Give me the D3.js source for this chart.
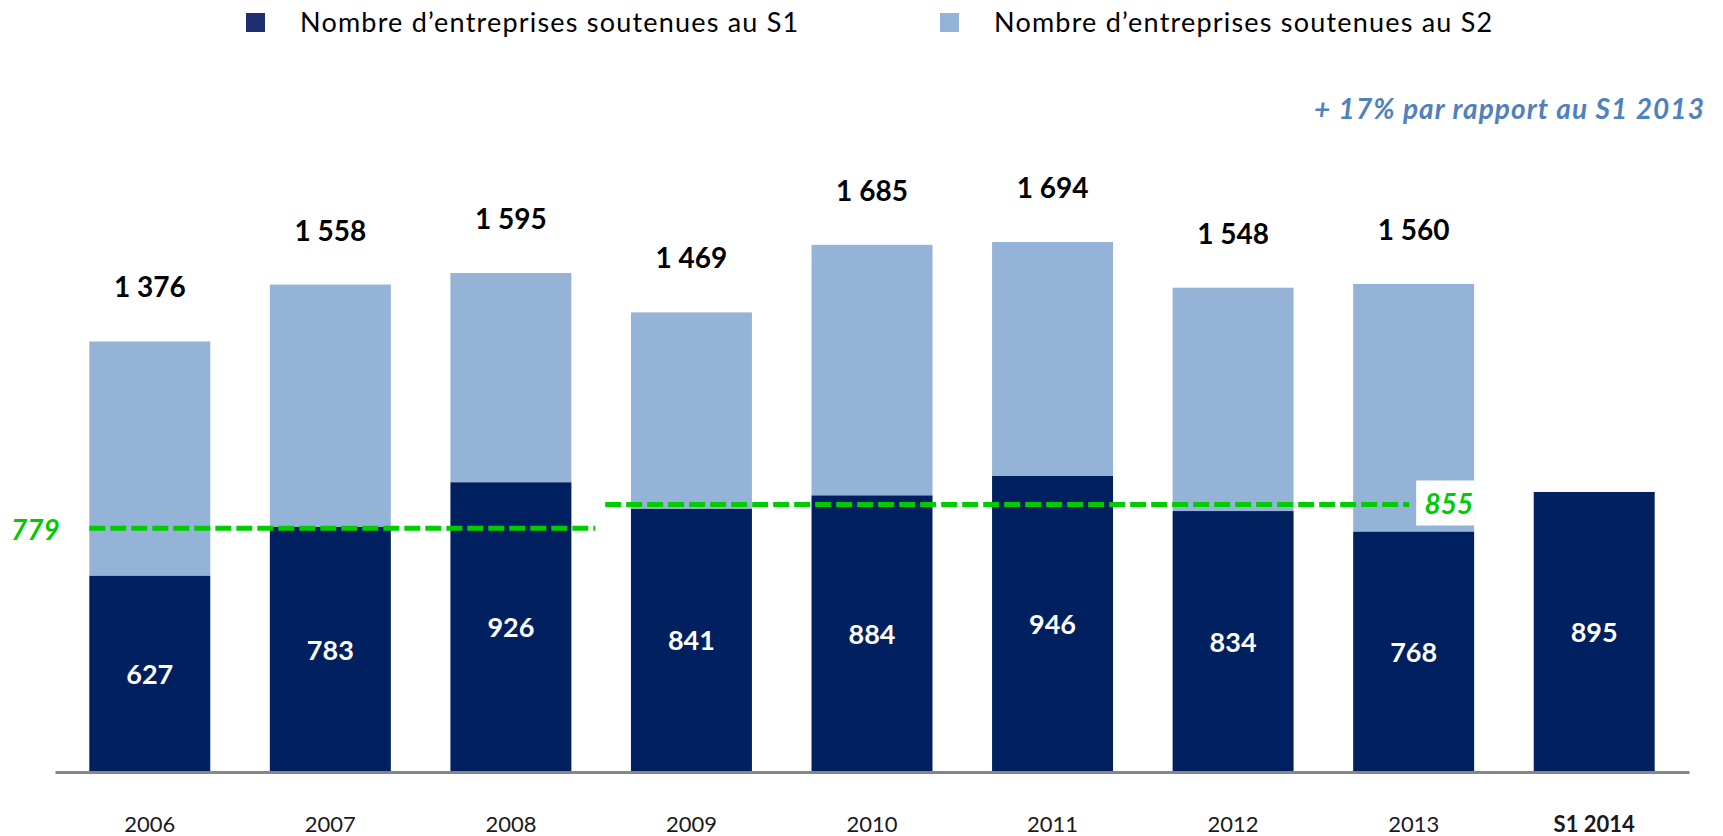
<!DOCTYPE html>
<html>
<head>
<meta charset="utf-8">
<script src="https://cdn.jsdelivr.net/npm/d3@7"></script>
<style>
  body { margin: 0; background: #fff; }
  svg text { font-family: Lato, "Open Sans", sans-serif; }
</style>
</head>
<body>
<script>
// data
var categories = ['2006', '2007', '2008', '2009', '2010', '2011', '2012', '2013', 'S1 2014'];
var s1Values   = [627, 783, 926, 841, 884, 946, 834, 768, 895];
var s2Values   = [749, 775, 669, 628, 801, 748, 714, 792, null];
var legendLabels = ['Nombre d\u2019entreprises soutenues au S1', 'Nombre d\u2019entreprises soutenues au S2'];
var averages = [
  {value: 779, from: '2006', to: '2008'},
  {value: 855, from: '2009', to: '2013'}
];
var noteText = '+ 17% par rapport au S1 2013';

var W = 1723, H = 836;
var colS1 = '#002060', colS2 = '#95B3D7', colGreen = '#00CC00';

var svg = d3.select('body').append('svg')
    .attr('width', W)
    .attr('height', H);

// scales
var x = d3.scaleBand()
    .domain(categories)
    .range([55, 1689])
    .paddingInner(0.33)
    .paddingOuter(0.19);

var y = d3.scaleLinear()
    .domain([0, 1694])
    .range([772, 242]);

// fr thousands: 1 376
function fmt(v) {
  return String(v).replace(/\B(?=(\d{3})+(?!\d))/g, ' ');
}

var rows = categories.map(function(c, i) {
  return {cat: c, s1: s1Values[i], s2: s2Values[i], total: s1Values[i] + (s2Values[i] || 0)};
});

// S2 segments (stacked above S1)
svg.selectAll('rect.s2')
  .data(rows.filter(function(d) { return d.s2 != null; }))
  .enter().append('rect')
    .attr('class', 's2')
    .attr('x', function(d) { return x(d.cat); })
    .attr('width', x.bandwidth())
    .attr('y', function(d) { return y(d.total); })
    .attr('height', function(d) { return y(d.s1) - y(d.total); })
    .attr('fill', colS2);

// S1 segments
svg.selectAll('rect.s1')
  .data(rows)
  .enter().append('rect')
    .attr('class', 's1')
    .attr('x', function(d) { return x(d.cat); })
    .attr('width', x.bandwidth())
    .attr('y', function(d) { return y(d.s1); })
    .attr('height', function(d) { return y(0) - y(d.s1); })
    .attr('fill', colS1);

// S1 labels inside bars
svg.selectAll('text.s1lab')
  .data(rows)
  .enter().append('text')
    .attr('class', 's1lab')
    .attr('x', function(d) { return x(d.cat) + x.bandwidth() / 2; })
    .attr('y', function(d) { return (y(d.s1) + y(0)) / 2 + 10; })
    .attr('text-anchor', 'middle')
    .attr('font-size', 27)
    .attr('font-weight', 'bold')
    .attr('fill', '#fff')
    .text(function(d) { return fmt(d.s1); });

// totals above bars
svg.selectAll('text.total')
  .data(rows.filter(function(d) { return d.s2 != null; }))
  .enter().append('text')
    .attr('class', 'total')
    .attr('x', function(d) { return x(d.cat) + x.bandwidth() / 2; })
    .attr('y', function(d) { return y(d.total) - 44; })
    .attr('text-anchor', 'middle')
    .attr('font-size', 28)
    .attr('font-weight', 'bold')
    .attr('fill', '#000')
    .text(function(d) { return fmt(d.total); });

// baseline axis
var xAxis = d3.axisBottom(x).tickSize(0).tickPadding(0);
var ax = svg.append('g')
    .attr('transform', 'translate(0,' + y(0) + ')')
    .call(xAxis);
ax.select('.domain')
    .attr('stroke', '#868686')
    .attr('stroke-width', 3);
ax.selectAll('.tick text')
    .attr('y', 60)
    .attr('dy', 0)
    .attr('font-family', 'Lato, sans-serif')
    .attr('font-size', 22)
    .attr('fill', '#1a1a1a')
    .attr('font-weight', function(d) { return d == 'S1 2014' ? 'bold' : 'normal'; });

// average dashed lines
var gap = x.step() - x.bandwidth();
averages.forEach(function(a, i) {
  var x1 = x(a.from) - (i == 0 ? 0 : gap / 2 - 4);
  var x2 = i == 0 ? x(a.to) + x.bandwidth() + gap / 2 - 6 : x(a.to) + 56;
  svg.append('line')
      .attr('x1', x1)
      .attr('x2', x2)
      .attr('y1', y(a.value))
      .attr('y2', y(a.value))
      .attr('stroke', colGreen)
      .attr('stroke-width', 5)
      .attr('stroke-dasharray', '16,5');
});

// 779 label on the left
svg.append('text')
    .attr('x', 11)
    .attr('y', y(averages[0].value) + 12)
    .attr('font-size', 28)
    .attr('font-weight', 'bold')
    .attr('font-style', 'italic')
    .attr('fill', colGreen)
    .text(averages[0].value);

// 855 label in a white box on the 2013 bar
var bx = x('2013') + x.bandwidth();
svg.append('rect')
    .attr('x', bx - 58)
    .attr('y', y(averages[1].value) - 24)
    .attr('width', 58)
    .attr('height', 45)
    .attr('fill', '#fff');
svg.append('text')
    .attr('x', bx - 1)
    .attr('y', y(averages[1].value) + 10)
    .attr('text-anchor', 'end')
    .attr('font-size', 28)
    .attr('font-weight', 'bold')
    .attr('font-style', 'italic')
    .attr('fill', colGreen)
    .text(averages[1].value);

// note top right
svg.append('text')
    .attr('x', 1705)
    .attr('y', 119)
    .attr('text-anchor', 'end')
    .attr('font-size', 28)
    .attr('letter-spacing', 1.1)
    .attr('font-weight', 'bold')
    .attr('font-style', 'italic')
    .attr('fill', '#4F81BD')
    .text(noteText);

// legend
var legend = svg.selectAll('g.legend')
  .data(legendLabels)
  .enter().append('g')
    .attr('class', 'legend')
    .attr('transform', function(d, i) { return 'translate(' + (i == 0 ? 246 : 940) + ',13)'; });
legend.append('rect')
    .attr('width', 19)
    .attr('height', 19)
    .attr('fill', function(d, i) { return i == 0 ? '#1F2F6E' : colS2; });
legend.append('text')
    .attr('x', 54)
    .attr('y', 19)
    .attr('font-size', 27)
    .attr('letter-spacing', 1.2)
    .attr('fill', '#000')
    .text(function(d) { return d; });
</script>
</body>
</html>
